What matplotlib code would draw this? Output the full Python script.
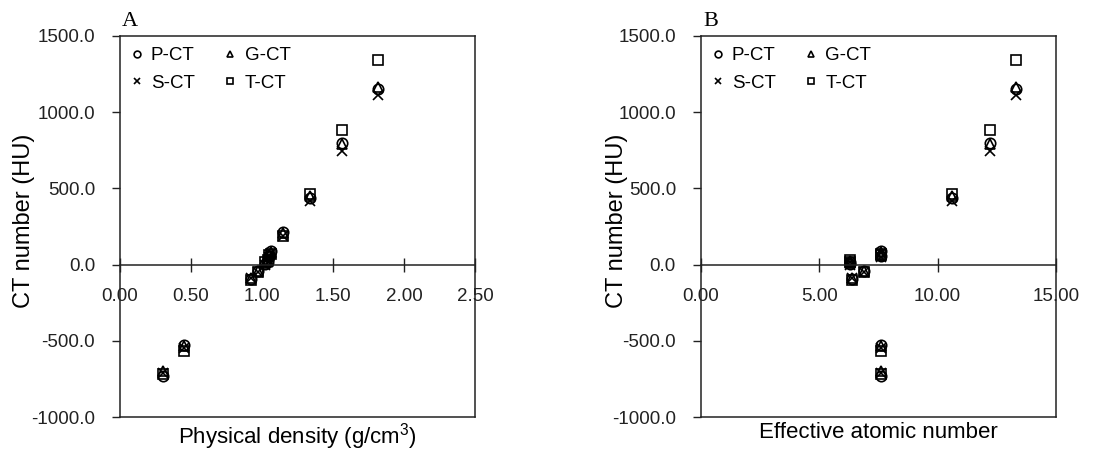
import numpy as np
import matplotlib
matplotlib.use("Agg")
import matplotlib.pyplot as plt
from matplotlib.ticker import FormatStrFormatter, MultipleLocator

plt.rcParams['font.family'] = ['Liberation Sans', 'DejaVu Sans']
plt.rcParams['mathtext.fontset'] = 'custom'
plt.rcParams['mathtext.rm'] = 'Liberation Sans'
plt.rcParams['mathtext.it'] = 'Liberation Sans'

# ---- data ----
density = [0.30, 0.45, 0.92, 0.97, 1.02, 1.04, 1.05, 1.06, 1.15, 1.34, 1.56, 1.82]
zeff = [7.6, 7.6, 6.4, 6.9, 6.3, 6.3, 7.6, 7.6, np.nan, 10.6, 12.2, 13.3]
p_ct = [-728, -525, -95, -45, 5, 20, 55, 90, 215, 440, 800, 1150]
g_ct = [-700, -535, -85, -40, 10, 25, 60, 80, 205, 450, 790, 1165]
s_ct = [-710, -545, -90, -48, 0, 15, 50, 75, 190, 420, 745, 1110]
t_ct = [-715, -570, -100, -50, 15, 30, 65, 70, 190, 465, 880, 1345]

series = [("P-CT", p_ct, "o"), ("G-CT", g_ct, "^"), ("S-CT", s_ct, "x"), ("T-CT", t_ct, "s")]

fig = plt.figure(figsize=(11.16, 4.55), dpi=100)
W, H = 1116, 455

def make_axes(left_px, xvals, xmax, xstep, xlabel, panel, ylab_x):
    ax = fig.add_axes([left_px / W, 1 - 417 / H, 355 / W, 381 / H])
    handles = {}
    for name, vals, mk in series:
        if mk == "x":
            h, = ax.plot(xvals, vals, linestyle="none", marker=mk, markersize=7.5,
                         color="black", markeredgewidth=1.2, label=name)
        else:
            h, = ax.plot(xvals, vals, linestyle="none", marker=mk, markersize=7.5,
                         markerfacecolor="none", markeredgecolor="black",
                         markeredgewidth=1.2, label=name)
        handles[name] = h
    ax.set_xlim(0, xmax)
    ax.set_ylim(-1000, 1500)
    ax.xaxis.set_major_locator(MultipleLocator(xstep))
    ax.yaxis.set_major_locator(MultipleLocator(500))
    ax.xaxis.set_major_formatter(FormatStrFormatter('%.2f'))
    ax.yaxis.set_major_formatter(FormatStrFormatter('%.1f'))
    for s in ax.spines.values():
        s.set_color('#222222')
        s.set_linewidth(1.1)
    ax.spines['bottom'].set_position(('data', 0))
    ax.plot([0, 1], [0, 0], transform=ax.transAxes, color='#222222', lw=1.1, clip_on=False)
    ax.tick_params(axis='x', direction='inout', length=10, width=1.0, pad=12,
                   labelsize=13.5, colors='#222222')
    ax.tick_params(axis='y', direction='out', length=6, width=1.0, pad=12,
                   labelsize=13.5, colors='#222222')
    ax.set_ylabel("CT number (HU)", fontsize=17)
    ax.yaxis.set_label_coords(ylab_x, 0.515)
    ax.set_xlabel(xlabel, fontsize=16)
    ax.xaxis.set_label_coords(0.5, -0.012)
    order = ["P-CT", "S-CT", "G-CT", "T-CT"]
    ax.legend([handles[n] for n in order], order, ncol=2, loc='upper left',
              bbox_to_anchor=(0.0, 1.0), frameon=False, fontsize=13.5,
              markerscale=0.65, handlelength=0.6, handletextpad=0.45,
              columnspacing=1.6, labelspacing=0.55, borderaxespad=0.3, borderpad=0.3)
    fig.text((left_px + 10) / W, 1 - 21 / H, panel, fontsize=16,
             family='Liberation Serif', ha='center', va='center')
    return ax

make_axes(120, density, 2.5, 0.5, "Physical density (g/cm$^{3}$)", "A", -0.24)
make_axes(701, zeff, 15, 5, "Effective atomic number", "B", -0.205)

fig.savefig("out.png", dpi=100)
